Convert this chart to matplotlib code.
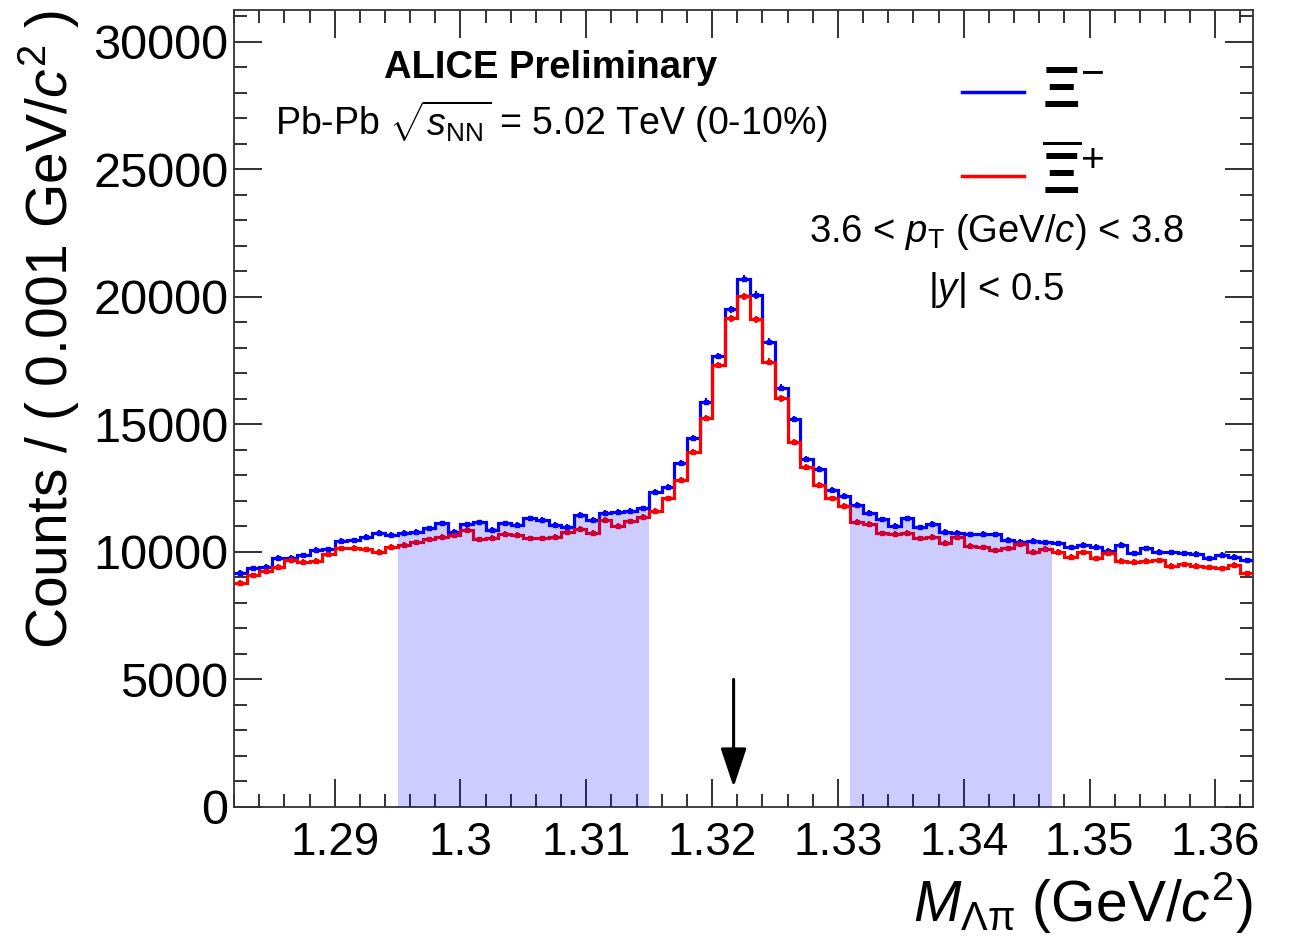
import numpy as np
import matplotlib
matplotlib.use('Agg')
import matplotlib.pyplot as plt
from matplotlib.ticker import MultipleLocator

plt.rcParams['font.family'] = ['Liberation Sans', 'DejaVu Sans']
plt.rcParams['mathtext.fontset'] = 'custom'
plt.rcParams['mathtext.rm'] = 'Liberation Sans'
plt.rcParams['mathtext.it'] = 'Liberation Sans:italic'
plt.rcParams['mathtext.bf'] = 'Liberation Sans:bold'

# === Invariant mass histograms, 1 MeV bins ===
bin_lo, bin_width, n_bins = 1.282, 0.001, 81

xi_minus = [9185, 9357, 9420, 9773, 9780, 9866, 10074, 10100, 10440, 10460,
            10596, 10753, 10662, 10740, 10792, 10924, 11120, 10790, 11080, 11160,
            10860, 11120, 11060, 11320, 11250, 11060, 10990, 11450, 11250, 11540,
            11580, 11620, 11710, 12340, 12560, 13470, 14480, 15890, 17680, 19510,
            20720, 20070, 18240, 16440, 15200, 13630, 13240, 12430, 12190, 11840,
            11540, 11280, 11015, 11320, 10960, 11090, 10780, 10750, 10690, 10700,
            10690, 10470, 10400, 10440, 10380, 10340, 10180, 10270, 10200, 10050,
            10270, 9945, 10140, 10010, 9980, 9945, 9920, 9750, 9880, 9810, 9680]

xi_plus = [8794, 9094, 9263, 9420, 9682, 9620, 9650, 9918, 10140, 10165,
           10100, 10010, 10200, 10270, 10370, 10500, 10600, 10660, 10860, 10500,
           10550, 10700, 10660, 10530, 10530, 10600, 10780, 10900, 10750, 11250,
           11030, 11200, 11380, 11600, 12100, 12820, 13930, 15240, 17330, 19160,
           20030, 19120, 17460, 16020, 14320, 13340, 12620, 12100, 11800, 11180,
           11090, 10730, 10700, 10750, 10530, 10600, 10360, 10570, 10230, 10180,
           10070, 10140, 10310, 10010, 10120, 10010, 9810, 9980, 9750, 9945,
           9655, 9620, 9655, 9680, 9450, 9520, 9450, 9400, 9360, 9490, 9160]

# sideband ranges (GeV/c^2) and PDG mass
sidebands = [(1.295, 1.315), (1.331, 1.347)]
xi_mass = 1.32171

edges = bin_lo + bin_width * np.arange(n_bins + 1)
centers = 0.5 * (edges[:-1] + edges[1:])
xi_minus = np.array(xi_minus, dtype=float)
xi_plus = np.array(xi_plus, dtype=float)

fig = plt.figure(figsize=(12.91, 9.39), dpi=100)
ax = fig.add_axes([0.1813, 0.1406, 0.9706 - 0.1813, 0.9894 - 0.1406])

for vals, col in [(xi_minus, '#0000ff'), (xi_plus, '#ff0000')]:
    ax.stairs(vals, edges, baseline=None, color=col, lw=2.3, zorder=3)
    ax.errorbar(centers, vals, yerr=np.sqrt(vals), fmt='s', ms=2.5,
                color=col, ecolor=col, elinewidth=1.5, capsize=0, zorder=3)

# shaded sideband regions drawn on top
for lo, hi in sidebands:
    i0 = int(round((lo - bin_lo) / bin_width))
    i1 = int(round((hi - bin_lo) / bin_width))
    ax.stairs(xi_minus[i0:i1], edges[i0:i1 + 1], baseline=0, fill=True,
              color='#0000ff', alpha=0.2, lw=0, zorder=4)

ax.annotate('', xy=(xi_mass, 780), xytext=(xi_mass, 5000),
            arrowprops=dict(arrowstyle='-|>,head_length=1.2,head_width=0.4',
                            color='black', lw=2.2, mutation_scale=20,
                            shrinkA=0, shrinkB=0), zorder=5)

ax.set_xlim(edges[0], edges[-1])
ax.set_ylim(0, 31250)
ax.xaxis.set_major_locator(MultipleLocator(0.01))
ax.xaxis.set_minor_locator(MultipleLocator(0.002))
ax.yaxis.set_major_locator(MultipleLocator(5000))
ax.yaxis.set_minor_locator(MultipleLocator(1000))
ax.set_xticks([1.29, 1.30, 1.31, 1.32, 1.33, 1.34, 1.35, 1.36])
ax.set_xticklabels(['1.29', '1.3', '1.31', '1.32', '1.33', '1.34', '1.35', '1.36'])
ax.tick_params(which='both', direction='in', top=True, right=True,
               color='#222222', width=1.3)
ax.tick_params(which='major', length=20)
ax.tick_params(which='minor', length=9.5)
ax.tick_params(axis='x', labelsize=33, pad=10)
ax.tick_params(axis='y', labelsize=35, pad=4)
for sp in ax.spines.values():
    sp.set_color('#333333')
    sp.set_linewidth(1.3)

ax.set_ylabel(r'Counts / ( 0.001 GeV/$c^{2}$ )', fontsize=41, loc='top', labelpad=8)
ax.set_xlabel(r'$M_{\Lambda\mathrm{\pi}}$ (GeV/$c^{2}$)', fontsize=41, loc='right', labelpad=4)

ax.text(0.311, 0.927, 'ALICE Preliminary', transform=ax.transAxes,
        fontsize=27.5, weight='bold', ha='center', va='center')
ax.text(0.311, 0.8595, r'Pb-Pb $\sqrt{s_{\rm NN}}$ = 5.02 TeV (0-10%)',
        transform=ax.transAxes, fontsize=27, ha='center', va='center')

# legend
ax.plot([1.33986, 1.34479], [28030, 28030], color='#0000ff', lw=2.5)
ax.plot([1.33986, 1.34479], [24735, 24735], color='#ff0000', lw=2.5)
ax.text(1.3462, 28030, r'$\mathbf{\Xi}^{-}$', fontsize=42, ha='left', va='center')
ax.text(1.3462, 24735, r'$\overline{\mathbf{\Xi}}^{+}$', fontsize=42, ha='left', va='center')

ax.text(0.748, 0.7215, r'3.6 < $p_{\rm T}$ (GeV/$c$) < 3.8', transform=ax.transAxes,
        fontsize=27.5, ha='center', va='center')
ax.text(0.748, 0.6487, r'|$y$| < 0.5', transform=ax.transAxes,
        fontsize=27.5, ha='center', va='center')

fig.savefig('out.png', dpi=100)
